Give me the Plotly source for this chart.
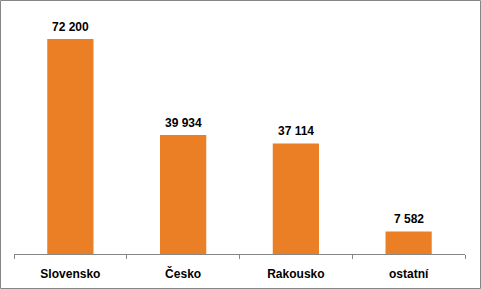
import plotly.graph_objects as go

categories = ["Slovensko", "Česko", "Rakousko", "ostatní"]
values = [72200, 39934, 37114, 7582]

W, H = 481, 289
L, R, T, B = 14, 16, 20, 35
plot_h = H - T - B
ymax = 72200 * plot_h / 215

FONT = "Liberation Sans Narrow, Liberation Sans, Arial"

fig = go.Figure()
fig.add_trace(go.Bar(
    x=categories, y=values,
    marker=dict(color="#EB7F26", line=dict(width=0)),
    width=0.41,
    hoverinfo="skip",
))

for c, v in zip(categories, values):
    fig.add_annotation(
        x=c, y=v, text="<b>" + f"{v:,}".replace(",", " ") + "</b>",
        showarrow=False, yanchor="bottom", yshift=3,
        font=dict(size=12, color="#000000", family=FONT),
    )

pw = W - L - R
fig.add_shape(
    type="rect", xref="paper", yref="paper",
    x0=(0.5 - L) / pw, x1=(W - 0.5 - L) / pw,
    y0=(H - B - (H - 0.5)) / plot_h, y1=(H - B - 0.5) / plot_h,
    line=dict(color="#868686", width=1), fillcolor="rgba(0,0,0,0)", layer="above",
)

fig.update_layout(
    width=W, height=H,
    margin=dict(l=L, r=R, t=T, b=B, pad=0, autoexpand=False),
    paper_bgcolor="white", plot_bgcolor="white",
    showlegend=False,
    bargap=0.59,
    xaxis=dict(
        type="category", showline=True, linecolor="#868686", linewidth=1,
        ticks="outside", tickson="boundaries", ticklen=4, tickcolor="#868686",
        ticklabelstandoff=9, automargin=False,
        tickfont=dict(size=12, color="#000000", family=FONT),
        tickprefix="<b>", ticksuffix="</b>",
        showgrid=False, fixedrange=True,
    ),
    yaxis=dict(range=[0, ymax], visible=False, showgrid=False, fixedrange=True),
)

fig.write_html("out.html")
